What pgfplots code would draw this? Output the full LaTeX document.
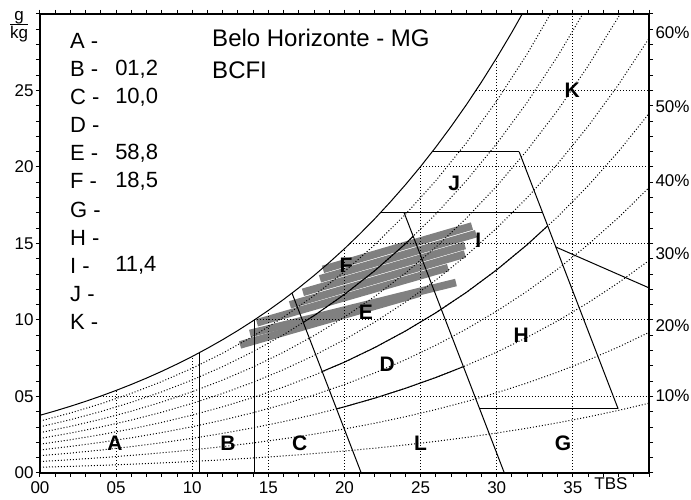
\documentclass[border=0pt]{standalone}
\usepackage{fontspec}
\setmainfont{Liberation Sans}
\usepackage{pgfplots}
\pgfplotsset{compat=1.18}
\definecolor{band}{RGB}{128,128,128}
\tikzset{
  rh/.style={black, line width=1pt, dash pattern=on 1pt off 2pt},
  zl/.style={black, line width=1pt},
  gb/.style={band, line width=7.6pt},
  zone/.style={font=\fontsize{21}{21}\bfseries\selectfont},
  lst/.style={anchor=west, font=\fontsize{22}{22}\selectfont, inner sep=0pt},
  ttl/.style={anchor=west, font=\fontsize{24}{24}\selectfont, inner sep=0pt},
}
\begin{document}
\begin{tikzpicture}
\begin{axis}[
  scale only axis, width=609pt, height=459pt,
  xmin=0, xmax=40, ymin=0, ymax=30,
  axis line style={line width=1.2pt},
  tick align=outside, major tick length=4pt, minor tick length=4pt,
  tick style={black, line width=1pt},
  xtick={0,5,...,35}, xticklabels={00,05,10,15,20,25,30,35},
  minor xtick={0,1,...,40},
  extra x ticks={37.5}, extra x tick labels={TBS},
  extra x tick style={major tick length=0pt},
  ytick={0,5,...,25}, yticklabels={00,05,10,15,20,25},
  minor ytick={0,1,...,30},
  xticklabel style={font=\fontsize{17}{17}\selectfont, yshift=-1pt},
  yticklabel style={font=\fontsize{17}{17}\selectfont, xshift=1pt},
  clip=true,
]
% gray data bands
\addplot[gb] coordinates {(13.14,8.37) (24.96,11.76)};
\addplot[gb] coordinates {(13.79,9.12) (27.32,12.45)};
\addplot[gb] coordinates {(14.25,9.82) (26.80,13.42)};
\addplot[gb] coordinates {(16.42,10.99) (27.91,14.31)};
\addplot[gb] coordinates {(17.27,11.81) (27.91,14.87)};
\addplot[gb] coordinates {(18.39,12.69) (28.64,15.64)};
\addplot[gb] coordinates {(18.59,13.31) (28.37,16.14)};
% relative humidity curves 10..90 %
\addplot[rh] coordinates {(0,0.375)(2,0.433)(4,0.499)(6,0.574)(8,0.658)(10,0.754)(12,0.861)(14,0.981)(16,1.116)(18,1.267)(20,1.436)(22,1.624)(24,1.834)(26,2.067)(28,2.325)(30,2.612)(32,2.929)(34,3.279)(36,3.666)(38,4.092)(40,4.561)};
\addplot[rh] coordinates {(0,0.751)(2,0.867)(4,0.999)(6,1.149)(8,1.318)(10,1.509)(12,1.724)(14,1.965)(16,2.236)(18,2.539)(20,2.878)(22,3.256)(24,3.678)(26,4.147)(28,4.668)(30,5.245)(32,5.885)(34,6.593)(36,7.375)(38,8.238)(40,9.189)};
\addplot[rh] coordinates {(0,1.127)(2,1.302)(4,1.500)(6,1.725)(8,1.979)(10,2.266)(12,2.589)(14,2.952)(16,3.360)(18,3.817)(20,4.327)(22,4.897)(24,5.533)(26,6.241)(28,7.028)(30,7.901)(32,8.870)(34,9.942)(36,11.129)(38,12.440)(40,13.886)};
\addplot[rh] coordinates {(0,1.504)(2,1.737)(4,2.002)(6,2.302)(8,2.642)(10,3.025)(12,3.457)(14,3.943)(16,4.488)(18,5.099)(20,5.783)(22,6.546)(24,7.400)(26,8.349)(28,9.406)(30,10.580)(32,11.883)(34,13.327)(36,14.928)(38,16.698)(40,18.653)};
\addplot[rh] coordinates {(0,1.881)(2,2.173)(4,2.505)(6,2.880)(8,3.306)(10,3.786)(12,4.327)(14,4.936)(16,5.620)(18,6.387)(20,7.246)(22,8.205)(24,9.277)(26,10.472)(28,11.802)(30,13.281)(32,14.925)(34,16.749)(36,18.772)(38,21.013)(40,23.493)};
\addplot[rh] coordinates {(0,2.258)(2,2.609)(4,3.008)(6,3.460)(8,3.971)(10,4.549)(12,5.200)(14,5.933)(16,6.757)(18,7.680)(20,8.715)(22,9.872)(24,11.166)(26,12.609)(28,14.217)(30,16.006)(32,17.996)(34,20.208)(36,22.663)(38,25.387)(40,28.406)};
\addplot[rh] coordinates {(0,2.636)(2,3.046)(4,3.512)(6,4.040)(8,4.638)(10,5.313)(12,6.075)(14,6.932)(16,7.897)(18,8.979)(20,10.191)(22,11.547)(24,13.066)(26,14.760)(28,16.650)(30,18.754)(32,21.097)(34,23.704)(36,26.603)(38,29.821)(40,33.394)};
\addplot[rh] coordinates {(0,3.015)(2,3.484)(4,4.017)(6,4.621)(8,5.306)(10,6.080)(12,6.953)(14,7.935)(16,9.041)(18,10.283)(20,11.675)(22,13.232)(24,14.977)(26,16.925)(28,19.101)(30,21.526)(32,24.228)(34,27.239)(36,30.589)};
\addplot[rh] coordinates {(0,3.394)(2,3.922)(4,4.523)(6,5.204)(8,5.976)(10,6.848)(12,7.833)(14,8.942)(16,10.190)(18,11.592)(20,13.165)(22,14.926)(24,16.900)(26,19.106)(28,21.571)(30,24.322)(32,27.390)(34,30.812)};
% dotted grid under saturation curve
\addplot[rh] coordinates {(5,0)(5,5.397)};
\addplot[rh] coordinates {(10,0)(10,7.618)};
\addplot[rh] coordinates {(15,0)(15,10.627)};
\addplot[rh] coordinates {(20,0)(20,14.662)};
\addplot[rh] coordinates {(25,0)(25,20.032)};
\addplot[rh] coordinates {(30,0)(30,27.142)};
\addplot[rh] coordinates {(35,0)(35,30)};
\addplot[rh] coordinates {(3.92,5)(40,5)};
\addplot[rh] coordinates {(14.04,10)(40,10)};
\addplot[rh] coordinates {(20.35,15)(40,15)};
\addplot[rh] coordinates {(24.97,20)(40,20)};
\addplot[rh] coordinates {(28.63,25)(40,25)};
% saturation curve
\addplot[zl] coordinates {(0,3.773)(1,4.057)(2,4.361)(3,4.684)(4,5.029)(5,5.397)(6,5.788)(7,6.204)(8,6.647)(9,7.118)(10,7.618)(11,8.151)(12,8.715)(13,9.315)(14,9.951)(15,10.627)(16,11.343)(17,12.102)(18,12.906)(19,13.759)(20,14.662)(21,15.619)(22,16.628)(23,17.703)(24,18.835)(25,20.032)(26,21.302)(27,22.644)(28,24.062)(29,25.559)(30,27.142)(31,28.815)(32,30.58)};
% zone boundaries
\addplot[zl] coordinates {(10.5,0)(10.5,7.88)};
\addplot[zl] coordinates {(14.1,0)(14.1,10.02)};
\addplot[zl] coordinates {(21.1,0)(16.55,11.76)};
\addplot[zl] coordinates {(30.5,0)(23.92,17.0)};
\addplot[zl] coordinates {(31.47,21.0)(37.97,4.2)};
\addplot[zl] coordinates {(28.87,4.2)(37.97,4.2)};
\addplot[zl] coordinates {(22.35,17.0)(33.02,17.0)};
\addplot[zl] coordinates {(25.76,21.0)(31.47,21.0)};
\addplot[zl] coordinates {(33.88,14.77)(40,12.1)};
\addplot[zl] coordinates {(17.29,9.84)(18,10.283)(20,11.675)(22,13.232)(24,14.977)(24.51,15.48)};
\addplot[zl] coordinates {(18.53,6.63)(20,7.246)(22,8.205)(24,9.277)(26,10.472)(28,11.802)(30,13.281)(32,14.925)(33.33,16.14)};
\addplot[zl] coordinates {(19.48,4.19)(20,4.327)(22,4.897)(24,5.533)(26,6.241)(27.81,6.95)};
% zone letters
\node[zone] at (axis cs:4.93,1.96) {A};
\node[zone] at (axis cs:12.35,1.96) {B};
\node[zone] at (axis cs:17.05,1.96) {C};
\node[zone] at (axis cs:22.8,7.1) {D};
\node[zone] at (axis cs:21.4,10.52) {E};
\node[zone] at (axis cs:20.1,13.59) {F};
\node[zone] at (axis cs:34.36,1.96) {G};
\node[zone] at (axis cs:31.6,9.02) {H};
\node[zone] at (axis cs:28.78,15.2) {I};
\node[zone] at (axis cs:27.2,18.95) {J};
\node[zone] at (axis cs:34.95,25.03) {K};
\node[zone] at (axis cs:25.0,1.96) {L};
% list
\node[lst] at (axis cs:1.97,28.24) {A -};
\node[lst] at (axis cs:1.97,26.40) {B -};
\node[lst] at (axis cs:1.97,24.57) {C -};
\node[lst] at (axis cs:1.97,22.73) {D -};
\node[lst] at (axis cs:1.97,20.90) {E -};
\node[lst] at (axis cs:1.97,19.06) {F -};
\node[lst] at (axis cs:1.97,17.22) {G -};
\node[lst] at (axis cs:1.97,15.39) {H -};
\node[lst] at (axis cs:1.97,13.55) {I -};
\node[lst] at (axis cs:1.97,11.72) {J -};
\node[lst] at (axis cs:1.97,9.88) {K -};
\node[lst] at (axis cs:4.93,26.40) {01,2};
\node[lst] at (axis cs:4.93,24.57) {10,0};
\node[lst] at (axis cs:4.93,20.90) {58,8};
\node[lst] at (axis cs:4.93,19.06) {18,5};
\node[lst] at (axis cs:4.93,13.55) {11,4};
\node[ttl] at (axis cs:11.3,28.43) {Belo Horizonte - MG};
\node[ttl] at (axis cs:11.3,26.34) {BCFI};
\end{axis}
\begin{axis}[
  scale only axis, width=609pt, height=459pt,
  xmin=0, xmax=40, ymin=0, ymax=30,
  axis x line=none, axis y line*=right,
  y axis line style={draw=none},
  major tick length=0pt,
  ytick={5.03,9.6,14.35,19.08,23.92,28.76},
  yticklabels={10\%,20\%,30\%,40\%,50\%,60\%},
  yticklabel style={font=\fontsize{17}{17}\selectfont, xshift=3pt},
]
\end{axis}
\node[font=\fontsize{17}{17}\selectfont, inner sep=0pt] at (-21pt,447pt)
  {\begin{tabular}{@{}c@{}}g\\[-1pt]\hline\rule{0pt}{14pt}kg\end{tabular}};
\pgfresetboundingbox
\path[use as bounding box] (-40pt,-27pt) rectangle (651pt,473pt);
\end{tikzpicture}
\end{document}
